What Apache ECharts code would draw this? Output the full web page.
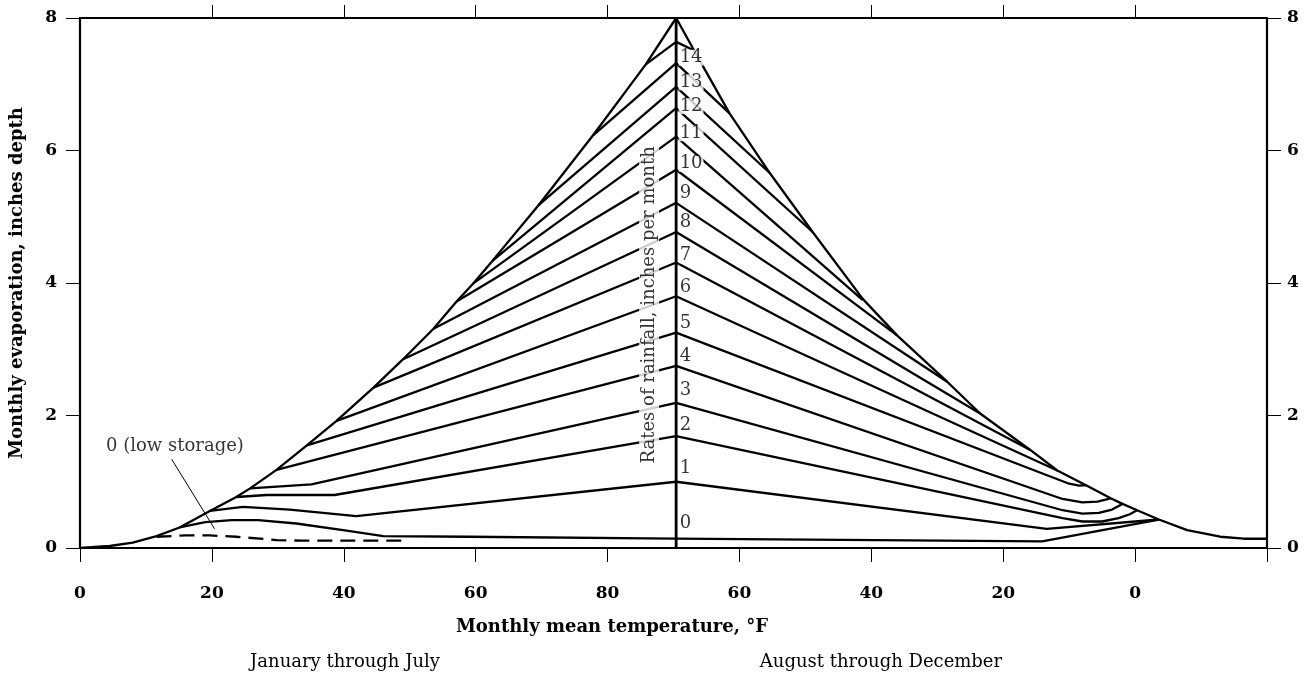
<!DOCTYPE html>
<html>
<head>
<meta charset="utf-8">
<script src="https://cdn.jsdelivr.net/npm/echarts@6.0.0/dist/echarts.min.js"></script>
<style>
html, body { margin: 0; padding: 0; background: #fff; }
#container { width: 1304px; height: 673px; }
</style>
</head>
<body>
<div id="container"></div>
<script>
var dom = document.getElementById("container");
var myChart = echarts.init(dom, null, { renderer: "canvas" });

// x runs 0..180: left half is Jan-Jul (0..90 F), right half is Aug-Dec (70 F at the peak down to -20)
var xTicks = [0, 20, 40, 60, 80, 100, 120, 140, 160, 180];
var xTickLabels = ["0", "20", "40", "60", "80", "60", "40", "20", "0", ""];
var topTicks = [20, 40, 60, 80, 100, 120, 140, 160];

// outer curve, rising side and falling side
var envelopeLeft = [[0, 0], [4.5, 0.03], [8, 0.08], [11.6, 0.18], [15.1, 0.31], [19.7, 0.56], [23.7, 0.77],
    [25.8, 0.9], [29.8, 1.18], [34.4, 1.55], [38.9, 1.92], [44.5, 2.42], [49, 2.85], [53.6, 3.31],
    [57.1, 3.72], [59.6, 3.99], [62.5, 4.33], [69.5, 5.17], [77.8, 6.23], [85.8, 7.3], [90.4, 8]];
var envelopeRight = [[90.4, 8], [92.9, 7.55], [98.5, 6.56], [104.6, 5.66], [111.1, 4.77], [118.7, 3.76],
    [123.9, 3.21], [131.5, 2.51], [136.5, 2.03], [144.1, 1.48], [148.2, 1.17], [152.7, 0.94],
    [156.3, 0.75], [158, 0.67], [160.3, 0.57], [163.6, 0.43], [167.9, 0.27], [172.9, 0.17],
    [176.5, 0.14], [180, 0.14]];

// rainfall-rate lines, index = inches per month (15 is the unlabelled top one)
var riseLines = [
    [[15.1, 0.31], [19, 0.39], [23, 0.42], [27, 0.42], [32.8, 0.37], [39.9, 0.27], [46, 0.18], [59, 0.17], [90.4, 0.14]],
    [[19.7, 0.56], [24.7, 0.62], [31.8, 0.58], [41.9, 0.48], [90.4, 1.0]],
    [[23.7, 0.77], [28.3, 0.8], [38.6, 0.8], [90.4, 1.69]],
    [[25.8, 0.9], [35.1, 0.96], [90.4, 2.19]],
    [[29.8, 1.18], [90.4, 2.75]],
    [[34.4, 1.55], [90.4, 3.25]],
    [[38.9, 1.92], [90.4, 3.8]],
    [[44.5, 2.42], [90.4, 4.31]],
    [[49, 2.85], [90.4, 4.77]],
    [[53.6, 3.31], [90.4, 5.21]],
    [[57.1, 3.72], [90.4, 5.71]],
    [[59.6, 3.99], [90.4, 6.21]],
    [[62.5, 4.33], [90.4, 6.64]],
    [[69.5, 5.17], [90.4, 6.96]],
    [[77.8, 6.23], [90.4, 7.32]],
    [[85.8, 7.3], [90.4, 7.64]]
];
var fallLines = [
    [[90.4, 0.14], [145.9, 0.1], [163.6, 0.43]],
    [[90.4, 1.0], [146.6, 0.29], [163.6, 0.43]],
    [[90.4, 1.69], [149, 0.45], [152, 0.4], [155, 0.4], [157.5, 0.45], [159.2, 0.51], [160.3, 0.57]],
    [[90.4, 2.19], [149, 0.57], [152, 0.52], [154.5, 0.53], [156.5, 0.58], [158, 0.66]],
    [[90.4, 2.75], [149, 0.74], [152, 0.69], [154.3, 0.7], [156.3, 0.75]],
    [[90.4, 3.25], [150, 0.97], [151.5, 0.94], [152.7, 0.95]],
    [[90.4, 3.8], [148.2, 1.17]],
    [[90.4, 4.31], [144.1, 1.48]],
    [[90.4, 4.77], [136.5, 2.03]],
    [[90.4, 5.21], [131.5, 2.51]],
    [[90.4, 5.71], [123.9, 3.21]],
    [[90.4, 6.21], [118.7, 3.74]],
    [[90.4, 6.64], [111.1, 4.77]],
    [[90.4, 6.96], [104.6, 5.66]],
    [[90.4, 7.32], [98.5, 6.56]],
    [[90.4, 7.64], [92.9, 7.52]]
];
var lowStorage = [[11.6, 0.17], [16, 0.19], [19.7, 0.19], [23.7, 0.17], [29.8, 0.12], [33.8, 0.11], [49.3, 0.11]];
var peakLine = [[90.4, 0], [90.4, 8]];
var leaderLine = [[13.9, 1.34], [20.4, 0.29]];

var rateLabels = ["0", "1", "2", "3", "4", "5", "6", "7", "8", "9", "10", "11", "12", "13", "14"];
var rateLabelAt = [0.37, 1.2, 1.85, 2.38, 2.89, 3.39, 3.94, 4.42, 4.91, 5.36, 5.8, 6.26, 6.67, 7.03, 7.4];

var FONT = '"DejaVu Serif", serif';

function curve(data, extra) {
    var s = {
        type: "line",
        data: data,
        showSymbol: false,
        symbol: "none",
        silent: true,
        z: 3,
        lineStyle: { color: "#000", width: 2.3 }
    };
    if (extra) {
        for (var k in extra) s[k] = extra[k];
    }
    return s;
}

var series = [];
series.push(curve(envelopeLeft));
series.push(curve(envelopeRight));
riseLines.forEach(function (d) { series.push(curve(d)); });
fallLines.forEach(function (d) { series.push(curve(d)); });
series.push(curve(lowStorage, { lineStyle: { color: "#000", width: 2.3, type: [15, 8] } }));
series.push(curve(leaderLine, { lineStyle: { color: "#000", width: 1 } }));
series.push(curve(peakLine, { lineStyle: { color: "#000", width: 2.8 }, z: 4 }));

series.push({
    type: "scatter",
    silent: true,
    symbolSize: 1,
    itemStyle: { color: "rgba(0,0,0,0)" },
    z: 6,
    data: rateLabels.map(function (t, i) { return { name: t, value: [90.4, rateLabelAt[i]] }; }),
    label: {
        show: true,
        position: "right",
        distance: 2,
        formatter: "{b}",
        color: "#000",
        fontFamily: FONT,
        fontSize: 18,
        lineHeight: 16,
        backgroundColor: "#fff",
        padding: [0, 1]
    }
});

series.push({
    type: "scatter",
    silent: true,
    symbolSize: 1,
    itemStyle: { color: "rgba(0,0,0,0)" },
    z: 6,
    data: [
        { name: "Rates of rainfall, inches per month", value: [86.3, 3.67], label: { rotate: 90 } },
        { name: "0 (low storage)", value: [14.4, 1.535] }
    ],
    label: {
        show: true,
        position: "inside",
        formatter: "{b}",
        color: "#000",
        fontFamily: FONT,
        fontSize: 18,
        textBorderWidth: 0,
        backgroundColor: "#fff",
        padding: [1, 2]
    }
});

var axisLine = { show: true, onZero: false, lineStyle: { color: "#000", width: 2.2 } };
var tickStyle = { color: "#000", width: 1 };
var labelStyle = { color: "#000", fontFamily: FONT, fontWeight: "bold", fontSize: 17 };

option = {
    animation: false,
    backgroundColor: "#fff",
    grid: { left: 80, right: 37, top: 18, bottom: 125, containLabel: false, outerBoundsMode: "none" },
    xAxis: [
        {
            type: "value",
            position: "bottom",
            min: 0,
            max: 180,
            interval: 20,
            axisLine: axisLine,
            axisTick: { show: true, inside: false, length: 14, lineStyle: tickStyle },
            axisLabel: Object.assign({
                margin: 37,
                formatter: function (v) {
                    var i = xTicks.indexOf(v);
                    return i < 0 ? "" : xTickLabels[i];
                }
            }, labelStyle),
            splitLine: { show: false }
        },
        {
            type: "value",
            position: "top",
            min: 0,
            max: 180,
            interval: 20,
            axisLine: axisLine,
            axisTick: { show: true, inside: false, length: 13, lineStyle: tickStyle, customValues: topTicks },
            axisLabel: { show: false },
            splitLine: { show: false }
        }
    ],
    yAxis: [
        {
            type: "value",
            position: "left",
            min: 0,
            max: 8,
            interval: 2,
            name: "Monthly evaporation, inches depth",
            nameLocation: "middle",
            nameGap: 54,
            nameTextStyle: { color: "#000", fontFamily: FONT, fontWeight: "bold", fontSize: 18 },
            axisLine: axisLine,
            axisTick: { show: true, inside: false, length: 14, lineStyle: tickStyle },
            axisLabel: Object.assign({ margin: 23 }, labelStyle),
            splitLine: { show: false }
        },
        {
            type: "value",
            position: "right",
            min: 0,
            max: 8,
            interval: 2,
            axisLine: axisLine,
            axisTick: { show: true, inside: false, length: 14, lineStyle: tickStyle },
            axisLabel: Object.assign({ margin: 20 }, labelStyle),
            splitLine: { show: false }
        }
    ],
    graphic: [
        {
            type: "text",
            x: 612,
            y: 627,
            style: {
                text: "Monthly mean temperature, °F",
                font: 'bold 18px "DejaVu Serif", serif',
                fill: "#000",
                align: "center",
                verticalAlign: "middle"
            }
        },
        {
            type: "text",
            x: 345,
            y: 662,
            style: {
                text: "January through July",
                font: '18px "DejaVu Serif", serif',
                fill: "#000",
                align: "center",
                verticalAlign: "middle"
            }
        },
        {
            type: "text",
            x: 881,
            y: 662,
            style: {
                text: "August through December",
                font: '18px "DejaVu Serif", serif',
                fill: "#000",
                align: "center",
                verticalAlign: "middle"
            }
        }
    ],
    series: series
};

if (option && typeof option === "object") {
    myChart.setOption(option);
}

window.addEventListener("resize", myChart.resize);
</script>
</body>
</html>
